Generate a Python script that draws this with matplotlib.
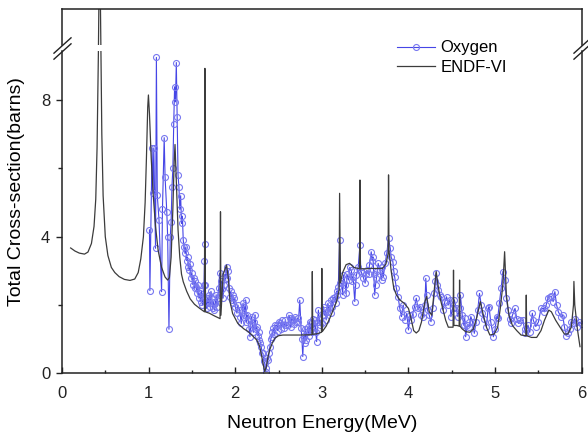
import matplotlib
matplotlib.use("Agg")
import matplotlib.pyplot as plt
from matplotlib.ticker import MultipleLocator

plt.rcParams['font.family'] = ['Liberation Sans', 'DejaVu Sans']

# --- ENDF-VI evaluated cross-section (energy MeV, barns) ---
endf_e = [0.10, 0.15, 0.20, 0.26, 0.30, 0.34, 0.37, 0.39, 0.405, 0.42, 0.435, 0.45,
          0.46, 0.475, 0.50, 0.53, 0.57, 0.61, 0.66, 0.72, 0.785, 0.84, 0.88, 0.91,
          0.94, 0.96, 0.975, 0.99, 0.998, 1.01, 1.03, 1.054, 1.08, 1.11, 1.15, 1.19,
          1.22, 1.24, 1.26, 1.28, 1.295, 1.305, 1.32, 1.34, 1.36, 1.38, 1.40, 1.44,
          1.48, 1.53, 1.59, 1.645, 1.650, 1.655, 1.70, 1.76, 1.825, 1.830, 1.835, 1.86,
          1.90, 1.92, 1.94, 1.97, 2.03, 2.10, 2.15, 2.20, 2.25, 2.28, 2.30, 2.32,
          2.34, 2.36, 2.38, 2.40, 2.43, 2.46, 2.50, 2.55, 2.65, 2.75, 2.885, 2.890,
          2.895, 2.95, 2.995, 3.000, 3.005, 3.05, 3.09, 3.13, 3.17, 3.20, 3.205, 3.215,
          3.24, 3.28, 3.32, 3.37, 3.435, 3.440, 3.445, 3.50, 3.55, 3.62, 3.70, 3.74,
          3.765, 3.770, 3.775, 3.80, 3.83, 3.86, 3.90, 3.95, 4.00, 4.03, 4.06, 4.09,
          4.12, 4.15, 4.19, 4.21, 4.24, 4.27, 4.30, 4.32, 4.34, 4.37, 4.40, 4.43,
          4.46, 4.515, 4.520, 4.525, 4.56, 4.585, 4.590, 4.595, 4.62, 4.66, 4.71, 4.75,
          4.79, 4.83, 4.86, 4.90, 4.94, 4.99, 5.03, 5.06, 5.09, 5.11, 5.13, 5.16,
          5.20, 5.25, 5.30, 5.355, 5.360, 5.365, 5.42, 5.48, 5.53, 5.57, 5.62, 5.65,
          5.70, 5.75, 5.80, 5.84, 5.88, 5.905, 5.91, 5.92, 5.95, 5.98]
endf_xs = [3.67, 3.58, 3.52, 3.49, 3.55, 3.80, 4.30, 5.10, 6.60, 9.30, 13.0, 9.30,
           7.00, 5.20, 4.00, 3.45, 3.10, 2.95, 2.83, 2.75, 2.72, 2.76, 2.95, 3.35,
           4.00, 5.00, 6.30, 7.80, 8.15, 7.60, 6.30, 5.20, 4.30, 3.60, 3.10, 2.82,
           2.73, 2.80, 3.40, 4.80, 6.20, 6.70, 5.60, 4.20, 3.40, 2.90, 2.68, 2.40,
           2.18, 2.02, 1.90, 1.80, 8.93, 1.80, 1.76, 1.68, 1.60, 4.73, 1.70, 2.90,
           3.17, 2.80, 2.10, 1.75, 1.46, 1.30, 1.22, 1.10, 0.97, 0.80, 0.58, 0.30,
           0.05, 0.20, 0.50, 0.70, 0.90, 1.03, 1.10, 1.12, 1.12, 1.12, 1.13, 2.98,
           1.14, 1.16, 1.20, 3.07, 1.22, 1.38, 1.60, 1.85, 2.10, 2.45, 5.27, 2.65,
           2.95, 3.18, 3.22, 3.10, 3.06, 5.66, 3.06, 3.06, 3.07, 3.07, 3.07, 3.20,
           3.50, 5.81, 3.60, 3.00, 2.50, 2.30, 2.15, 2.05, 1.90, 1.60, 1.25, 1.18,
           1.25, 1.50, 2.10, 2.25, 1.80, 1.70, 2.50, 2.98, 2.60, 2.15, 1.85, 1.55,
           1.35, 1.35, 3.02, 1.40, 1.40, 1.38, 2.73, 1.38, 1.30, 1.22, 1.20, 1.30,
           1.65, 2.10, 1.75, 1.35, 1.12, 1.15, 1.35, 1.90, 2.60, 3.56, 2.30, 1.70,
           1.40, 1.25, 1.12, 1.10, 2.29, 1.10, 1.05, 1.05, 1.25, 1.55, 1.85, 1.80,
           1.55, 1.35, 1.15, 1.15, 1.35, 2.00, 2.69, 2.00, 1.30, 0.78]

# --- measured oxygen cross-section (energy MeV, barns) ---
oxy_e = [1.010, 1.015, 1.04, 1.05, 1.06, 1.08, 1.09, 1.10, 1.12, 1.15, 1.16, 1.18,
         1.19, 1.21, 1.22, 1.235, 1.25, 1.26, 1.27, 1.28, 1.29, 1.30, 1.31, 1.32,
         1.33, 1.34, 1.35, 1.36, 1.37, 1.38, 1.39, 1.40, 1.41, 1.42, 1.43, 1.44,
         1.45, 1.46, 1.47, 1.48, 1.49, 1.50, 1.51, 1.52, 1.53, 1.54, 1.55, 1.56,
         1.57, 1.58, 1.59, 1.60, 1.61, 1.62, 1.63, 1.64, 1.645, 1.65, 1.655, 1.66,
         1.67, 1.68, 1.69, 1.70, 1.71, 1.72, 1.73, 1.74, 1.75, 1.76, 1.77, 1.78,
         1.79, 1.80, 1.81, 1.82, 1.83, 1.84, 1.85, 1.86, 1.87, 1.88, 1.89, 1.90,
         1.91, 1.92, 1.93, 1.94, 1.95, 1.96, 1.97, 1.98, 1.99, 2.00, 2.02, 2.03,
         2.05, 2.06, 2.07, 2.08, 2.09, 2.10, 2.11, 2.12, 2.13, 2.14, 2.15, 2.16,
         2.17, 2.18, 2.19, 2.20, 2.21, 2.22, 2.23, 2.24, 2.25, 2.26, 2.27, 2.28,
         2.29, 2.30, 2.31, 2.32, 2.33, 2.34, 2.35, 2.36, 2.37, 2.38, 2.39, 2.40,
         2.41, 2.42, 2.43, 2.44, 2.45, 2.46, 2.48, 2.49, 2.50, 2.52, 2.53, 2.54,
         2.56, 2.58, 2.59, 2.61, 2.62, 2.63, 2.64, 2.65, 2.67, 2.68, 2.69, 2.70,
         2.72, 2.73, 2.745, 2.76, 2.77, 2.78, 2.79, 2.80, 2.81, 2.82, 2.83, 2.84,
         2.85, 2.86, 2.87, 2.88, 2.89, 2.90, 2.91, 2.92, 2.93, 2.94, 2.95, 2.96,
         2.97, 2.98, 3.00, 3.01, 3.02, 3.03, 3.04, 3.05, 3.06, 3.07, 3.08, 3.10,
         3.11, 3.12, 3.13, 3.15, 3.16, 3.17, 3.18, 3.19, 3.205, 3.215, 3.23, 3.24,
         3.25, 3.27, 3.28, 3.29, 3.31, 3.32, 3.34, 3.35, 3.36, 3.38, 3.39, 3.40,
         3.42, 3.44, 3.45, 3.46, 3.48, 3.50, 3.51, 3.52, 3.54, 3.55, 3.57, 3.58,
         3.59, 3.60, 3.61, 3.62, 3.63, 3.64, 3.65, 3.67, 3.69, 3.70, 3.71, 3.73,
         3.75, 3.77, 3.79, 3.80, 3.82, 3.83, 3.84, 3.86, 3.88, 3.90, 3.92, 3.94,
         3.96, 3.98, 4.00, 4.02, 4.03, 4.05, 4.07, 4.09, 4.11, 4.13, 4.15, 4.17,
         4.19, 4.20, 4.21, 4.22, 4.24, 4.26, 4.28, 4.30, 4.31, 4.32, 4.33, 4.34,
         4.36, 4.38, 4.40, 4.42, 4.44, 4.46, 4.48, 4.49, 4.51, 4.53, 4.55, 4.57,
         4.59, 4.60, 4.62, 4.64, 4.65, 4.66, 4.68, 4.70, 4.72, 4.74, 4.76, 4.78,
         4.80, 4.82, 4.84, 4.85, 4.87, 4.90, 4.92, 4.93, 4.95, 4.98, 5.00, 5.02,
         5.03, 5.05, 5.07, 5.09, 5.11, 5.13, 5.15, 5.17, 5.18, 5.20, 5.23, 5.25,
         5.27, 5.29, 5.32, 5.34, 5.35, 5.38, 5.40, 5.43, 5.44, 5.47, 5.50, 5.53,
         5.56, 5.57, 5.59, 5.61, 5.63, 5.65, 5.67, 5.69, 5.71, 5.73, 5.76, 5.78,
         5.80, 5.82, 5.84, 5.86, 5.88, 5.90, 5.92, 5.94, 5.97, 6.00]
oxy_xs = [4.20, 2.42, 6.60, 5.27, 6.60, 3.66, 9.25, 5.22, 4.50, 2.39, 4.80, 6.90,
          5.76, 4.73, 4.00, 1.29, 4.00, 4.44, 5.47, 6.00, 7.30, 8.39, 7.95, 9.10,
          7.51, 5.80, 5.46, 4.80, 5.20, 4.39, 4.60, 3.90, 3.70, 3.51, 3.70, 3.30,
          3.40, 3.10, 3.02, 3.20, 2.80, 2.93, 2.60, 2.80, 2.50, 2.70, 2.54, 2.35,
          2.60, 2.20, 2.34, 2.10, 2.40, 2.00, 2.25, 2.60, 3.30, 3.79, 2.60, 2.10,
          1.90, 2.20, 2.05, 2.30, 1.95, 2.40, 2.20, 1.90, 2.10, 1.85, 2.05, 2.30,
          1.95, 2.20, 2.50, 2.93, 2.30, 2.70, 2.46, 2.20, 2.60, 2.90, 2.75, 3.12,
          2.78, 3.00, 2.50, 2.24, 2.40, 2.15, 2.30, 2.05, 2.20, 1.95, 1.76, 2.00,
          1.85, 1.66, 1.46, 1.80, 2.05, 1.95, 1.70, 2.15, 1.50, 1.70, 1.56, 1.30,
          1.07, 1.45, 1.66, 1.40, 1.20, 1.50, 1.71, 1.30, 1.37, 1.10, 1.22, 0.98,
          0.90, 0.78, 0.60, 0.59, 0.35, 0.30, 0.05, 0.15, 0.45, 0.39, 0.60, 0.78,
          1.00, 1.07, 1.20, 1.32, 1.15, 1.40, 1.41, 1.25, 1.50, 1.46, 1.30, 1.55,
          1.32, 1.56, 1.40, 1.41, 1.70, 1.61, 1.35, 1.60, 1.56, 1.45, 1.66, 1.50,
          1.62, 1.51, 2.14, 1.32, 1.00, 0.49, 1.10, 0.88, 1.30, 0.98, 1.20, 1.37,
          1.10, 1.50, 1.30, 1.46, 1.20, 1.60, 1.35, 1.56, 1.20, 0.93, 1.50, 1.85,
          1.60, 1.40, 1.46, 1.70, 1.95, 1.70, 1.85, 1.56, 1.80, 2.05, 1.90, 1.76,
          2.14, 1.95, 2.20, 2.24, 2.05, 2.40, 2.30, 2.54, 3.90, 2.64, 2.64, 2.30,
          2.88, 2.60, 2.34, 2.90, 2.73, 3.10, 3.02, 2.70, 2.83, 2.10, 2.60, 2.88,
          3.12, 3.76, 3.00, 2.93, 2.80, 2.64, 2.90, 3.02, 2.90, 3.17, 3.56, 3.30,
          3.41, 2.90, 2.29, 2.60, 2.78, 3.00, 3.22, 3.02, 2.73, 3.10, 2.83, 3.22,
          3.51, 3.95, 3.66, 3.40, 3.27, 3.00, 2.83, 2.50, 2.24, 1.90, 1.66, 2.00,
          1.56, 1.75, 1.27, 1.70, 1.56, 1.75, 1.95, 2.20, 1.90, 1.95, 1.70, 1.66,
          2.00, 2.78, 2.30, 1.85, 1.70, 1.51, 1.90, 2.34, 2.70, 2.93, 2.60, 2.44,
          2.30, 2.24, 1.85, 2.10, 2.24, 2.00, 2.15, 1.66, 1.90, 2.15, 1.90, 1.66,
          1.90, 2.29, 1.71, 1.40, 1.61, 1.07, 1.40, 1.37, 1.66, 1.50, 1.17, 1.50,
          1.85, 2.34, 2.00, 1.76, 1.60, 1.37, 1.90, 1.95, 1.50, 1.07, 1.30, 1.66,
          1.61, 2.05, 2.50, 2.98, 2.73, 2.20, 1.85, 1.60, 1.46, 1.70, 1.90, 1.60,
          1.46, 1.56, 1.56, 1.30, 1.17, 1.41, 1.20, 1.76, 1.56, 1.37, 1.50, 1.90,
          1.90, 1.80, 2.00, 2.20, 2.24, 2.25, 2.10, 2.39, 2.00, 1.80, 1.66, 1.70,
          1.37, 1.10, 1.17, 1.30, 1.50, 1.46, 1.60, 1.37, 1.50, 1.45]

x_ticks = [0, 1, 2, 3, 4, 5, 6]
y_ticks = [0, 4, 8]

fig = plt.figure(figsize=(5.88, 4.34), dpi=100)
ax = fig.add_axes([0.1054, 0.1399, 0.8839, 0.7435])      # lower part, 0 .. 9.45
ax_top = fig.add_axes([0.1054, 0.8952, 0.8839, 0.0834])  # upper part above the break
ax_top.patch.set_visible(False)

oxy_kw = dict(color='#4646e6', lw=0.8, marker='o', ms=4.3, mfc='none',
              mec='#7878f0', mew=0.8, label='Oxygen')
endf_kw = dict(color='#3c3c3c', lw=0.9, label='ENDF-VI')

for a in (ax, ax_top):
    a.plot(oxy_e, oxy_xs, **oxy_kw)
    a.plot(endf_e, endf_xs, **endf_kw)
    a.set_xlim(0, 6)
    for s in a.spines.values():
        s.set_linewidth(1.1)
        s.set_color('#222222')

ax.set_ylim(0, 9.45)
ax_top.set_ylim(9.6, 10.66)
ax.spines['top'].set_visible(False)
ax_top.spines['bottom'].set_visible(False)
ax_top.set_xticks([])
ax_top.set_yticks([])

ax.set_xticks(x_ticks)
ax.set_yticks(y_ticks)
ax.xaxis.set_minor_locator(MultipleLocator(0.5))
ax.yaxis.set_minor_locator(MultipleLocator(2))
ax.tick_params(axis='x', which='both', direction='in', labelsize=12, pad=9, colors='#222222')
ax.tick_params(axis='x', which='major', length=4, width=1)
ax.tick_params(axis='x', which='minor', length=2.5, width=1)
ax.tick_params(axis='y', which='both', direction='out', labelsize=12, pad=4, colors='#222222')
ax.tick_params(axis='y', which='major', length=4.5, width=1)
ax.tick_params(axis='y', which='minor', length=3, width=1)

ax.set_xlabel('Neutron Energy(MeV)', fontsize=14, labelpad=10)
ax.set_ylabel('Total Cross-section(barns)', fontsize=14)
ax.yaxis.set_label_coords(-0.071, 0.564)

# break marks on both spines
gap = [(-1, -0.9), (1, 0.9), (1, 1.6), (-1, -0.2)]
slash = [(-1, -0.9), (1, 0.9)]
for xb in (0, 6):
    ax.plot([xb], [9.525], marker=gap, ms=13, mfc='white', mec='white', mew=0,
            ls='none', clip_on=False, zorder=5)
    ax.plot([xb, xb], [9.45, 9.6], marker=slash, ms=13, mec='#222222', mew=1.0,
            ls='none', clip_on=False, zorder=6)

ax.legend(loc='upper left', bbox_to_anchor=(0.675, 0.907), bbox_transform=fig.transFigure,
          frameon=False, fontsize=12, handlelength=2.3, handletextpad=0.3,
          labelspacing=0.26, borderpad=0, borderaxespad=0)

fig.savefig('out.png', dpi=100)
